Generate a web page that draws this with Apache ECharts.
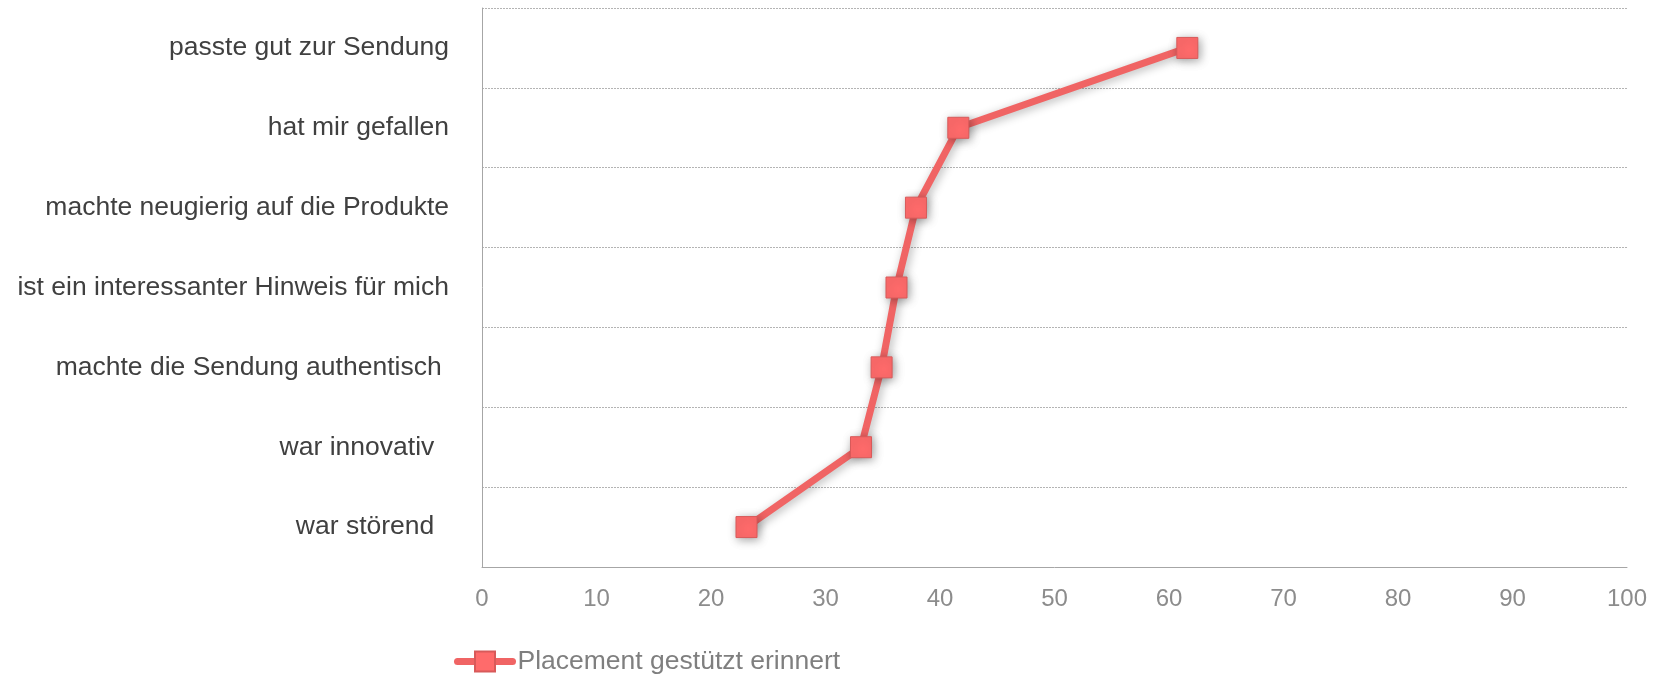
<!DOCTYPE html>
<html>
<head>
<meta charset="utf-8">
<script src="https://cdn.jsdelivr.net/npm/echarts@6/dist/echarts.min.js"></script>
<style>html,body{margin:0;padding:0;background:#fff}#c{width:1671px;height:675px}</style>
</head>
<body>
<div id="c"></div>
<script>
const categories = [
  "passte gut zur Sendung",
  "hat mir gefallen",
  "machte neugierig auf die Produkte",
  "ist ein interessanter Hinweis für mich",
  "machte die Sendung authentisch ",
  "war innovativ  ",
  "war störend  "
];
const seriesName = "Placement gestützt erinnert";
const values = [61.6, 41.6, 37.9, 36.2, 34.9, 33.1, 23.1];
const xTicks = { min: 0, max: 100, interval: 10 };

const chart = echarts.init(document.getElementById('c'), null, { renderer: 'canvas' });
chart.setOption({
  animation: false,
  backgroundColor: '#ffffff',
  textStyle: { fontFamily: 'Liberation Sans, Arial, sans-serif' },
  grid: { left: 482, right: 44, top: 8, bottom: 108, containLabel: false },
  xAxis: {
    type: 'value',
    min: xTicks.min, max: xTicks.max, interval: xTicks.interval,
    axisLine: { show: true, lineStyle: { color: '#a6a6a6', width: 1 } },
    axisTick: { show: false },
    splitLine: { show: false },
    axisLabel: { color: '#8c8c8c', fontSize: 24, margin: 20, fontFamily: 'Liberation Sans, Arial, sans-serif' }
  },
  yAxis: {
    type: 'category',
    inverse: true,
    data: categories,
    axisLine: { show: true, lineStyle: { color: '#a6a6a6', width: 1 } },
    axisTick: { show: false },
    splitLine: { show: true, lineStyle: { color: '#b4b4b4', type: [2, 1], width: 1 } },
    axisLabel: { color: '#404040', fontSize: 26.5, margin: 33, fontFamily: 'Liberation Sans, Arial, sans-serif' }
  },
  legend: {
    show: true,
    left: 454, top: 648, padding: 0,
    itemWidth: 55, itemHeight: 25, itemGap: 10,
    lineStyle: { width: 7, cap: 'round', color: '#F06464' },
    textStyle: { color: '#7f7f7f', fontSize: 26.5, fontFamily: 'Liberation Sans, Arial, sans-serif' },
    data: [seriesName]
  },
  series: [{
    name: seriesName,
    type: 'line',
    data: values,
    symbol: 'rect',
    symbolSize: 21,
    lineStyle: { color: '#F06464', width: 7, shadowBlur: 10, shadowColor: 'rgba(0,0,0,0.3)', shadowOffsetX: 2, shadowOffsetY: 2 },
    itemStyle: { color: '#FF6B6B', borderColor: '#D85A5A', borderWidth: 1, shadowBlur: 10, shadowColor: 'rgba(0,0,0,0.35)', shadowOffsetX: 2, shadowOffsetY: 2 }
  }]
});
</script>
</body>
</html>
